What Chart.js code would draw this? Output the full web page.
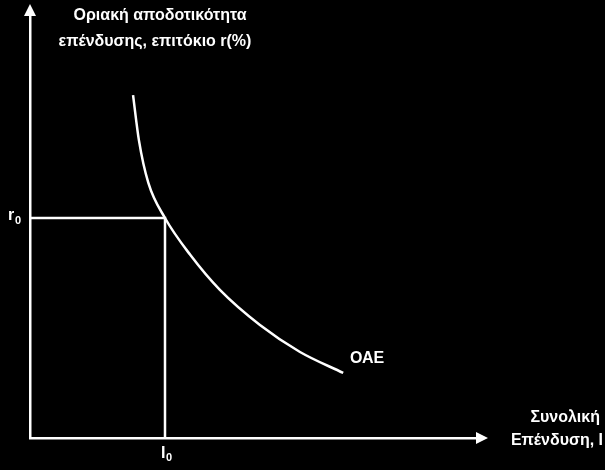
<!DOCTYPE html>
<html><head><meta charset="utf-8">
<script src="https://cdn.jsdelivr.net/npm/chart.js@4"></script>
<style>html,body{margin:0;background:#000}#w{width:605px;height:470px}</style>
</head><body><div id="w"><canvas id="c"></canvas></div>
<script>
const curveX = [22.9, 24.2, 26.3, 30, 35.6, 42.2, 51.1, 60, 69.6];
const curveY = [80.1, 69.6, 59.6, 51.4, 42.8, 34.6, 26.4, 20.1, 15.2];
const r0 = 51.4, I0 = 30;
const yTitle = ["Οριακή αποδοτικότητα", "επένδυσης, επιτόκιο r(%)"];
const xTitle = ["Συνολική", "Επένδυση, Ι"];
const curveLabel = "ΟΑΕ";

const font = 'bold 16px "Liberation Sans", Arial, sans-serif';
const deco = {
  id: 'deco',
  afterDraw(ch) {
    const c = ch.ctx, x = ch.scales.x, y = ch.scales.y;
    const x0 = x.getPixelForValue(0), y0 = y.getPixelForValue(0);
    const xe = x.getPixelForValue(100), ye = y.getPixelForValue(100);
    c.save();
    c.fillStyle = '#fff';
    c.beginPath(); c.moveTo(xe + 8, y0); c.lineTo(xe - 4, y0 - 6); c.lineTo(xe - 4, y0 + 6); c.fill();
    c.beginPath(); c.moveTo(x0, ye - 6); c.lineTo(x0 - 6, ye + 6); c.lineTo(x0 + 6, ye + 6); c.fill();
    c.font = font; c.textAlign = 'center'; c.textBaseline = 'middle';
    c.fillText(yTitle[0], 160, 16); c.fillText(yTitle[1], 155, 42);
    c.textAlign = 'right';
    c.fillText(xTitle[0], 600, 418); c.fillText(xTitle[1], 603, 441);
    c.textAlign = 'left';
    c.fillText(curveLabel, 350, 359);
    const ry = y.getPixelForValue(r0), ix = x.getPixelForValue(I0);
    c.fillText('r', 8, ry - 2); c.font = 'bold 11px "Liberation Sans", Arial'; c.fillText('0', 15, ry + 3);
    c.font = font; c.fillText('I', ix - 4, y0 + 16); c.font = 'bold 11px "Liberation Sans", Arial'; c.fillText('0', ix + 1, y0 + 20);
    c.restore();
  }
};
new Chart(document.getElementById('c'), {
  type: 'scatter',
  data: { datasets: [
    { data: curveX.map((v, i) => ({x: v, y: curveY[i]})), showLine: true, cubicInterpolationMode: 'monotone', borderColor: '#fff', borderWidth: 2.5, pointRadius: 0 },
    { data: [{x: 0, y: r0}, {x: I0, y: r0}, {x: I0, y: 0}], showLine: true, tension: 0, borderColor: '#fff', borderWidth: 2.5, pointRadius: 0 }
  ]},
  options: {
    responsive: true, maintainAspectRatio: false, animation: false,
    layout: { padding: { left: 30, top: 10, right: 125, bottom: 32 } },
    plugins: { legend: { display: false }, tooltip: { enabled: false } },
    scales: {
      x: { type: 'linear', min: 0, max: 100, grid: { display: false, drawTicks: false }, ticks: { display: false }, border: { color: '#fff', width: 2.5 } },
      y: { type: 'linear', min: 0, max: 100, grid: { display: false, drawTicks: false }, ticks: { display: false }, border: { color: '#fff', width: 2.5 } }
    }
  },
  plugins: [deco]
});
</script></body></html>
